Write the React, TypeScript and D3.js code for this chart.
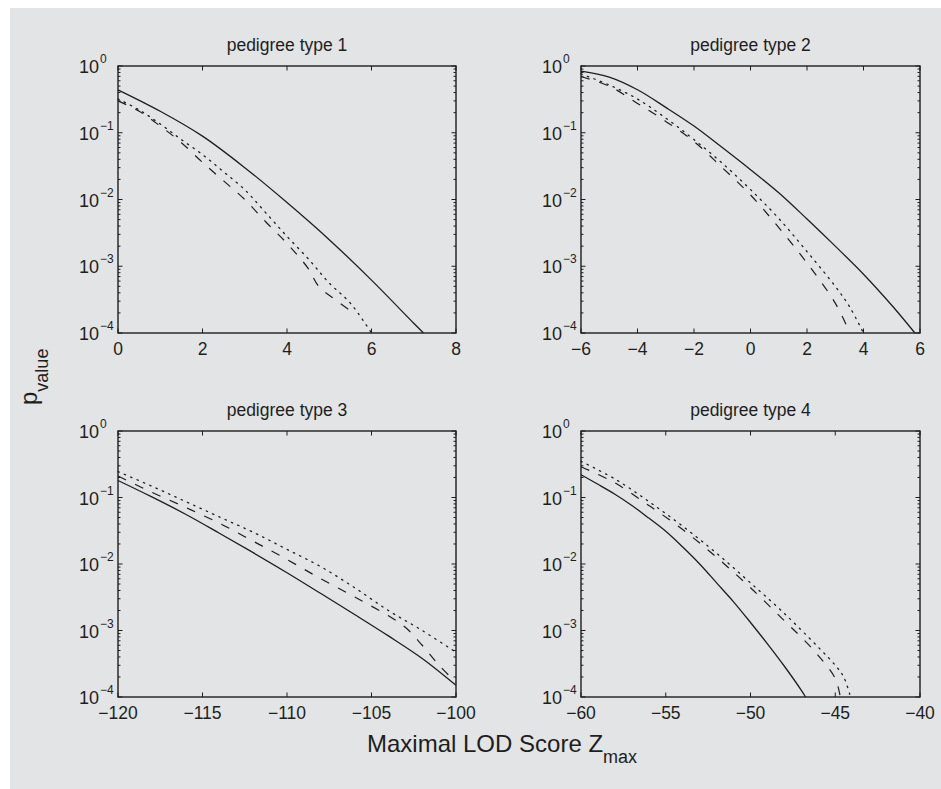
import React from "react";
import * as d3 from "d3";

// ---------- data ----------
const titles = ["pedigree type 1", "pedigree type 2", "pedigree type 3", "pedigree type 4"];
const xDomains: [number, number][] = [[0, 8], [-6, 6], [-120, -100], [-60, -40]];
const xTicks1 = [0, 2, 4, 6, 8];
const xTicks2 = [-6, -4, -2, 0, 2, 4, 6];
const xTicks3 = [-120, -115, -110, -105, -100];
const xTicks4 = [-60, -55, -50, -45, -40];
const yTickExponents = [0, -1, -2, -3, -4];

// panel 1
const p1SolidX = [0, 1, 2, 3, 4, 5, 6, 7, 7.23];
const p1SolidY = [0.44, 0.21, 0.089, 0.030, 0.0090, 0.0025, 6.2e-4, 1.4e-4, 1.0e-4];
const p1DashX = [0, 0.5, 1, 1.5, 2, 2.5, 3, 3.5, 4, 4.5, 4.75, 5.1, 5.53];
const p1DashY = [0.30, 0.21, 0.126, 0.071, 0.036, 0.019, 0.010, 0.0046, 0.0022, 9.3e-4, 5.0e-4, 3.3e-4, 2.1e-4];
const p1DotX = [0, 0.5, 1, 1.5, 2, 2.5, 3, 3.5, 4, 4.5, 5, 5.5, 6];
const p1DotY = [0.32, 0.22, 0.135, 0.079, 0.047, 0.026, 0.014, 0.0063, 0.0028, 0.0013, 5.6e-4, 2.8e-4, 1.0e-4];

// panel 2
const p2SolidX = [-6, -5, -4, -3, -2, -1, 0, 1, 2, 3, 4, 5, 5.82];
const p2SolidY = [0.84, 0.68, 0.44, 0.24, 0.126, 0.060, 0.028, 0.0126, 0.0051, 0.0020, 7.6e-4, 2.6e-4, 1.0e-4];
const p2DashX = [-6, -5, -4, -3, -2, -1, 0, 1, 2, 3, 3.52];
const p2DashY = [0.69, 0.50, 0.275, 0.148, 0.074, 0.030, 0.0117, 0.0038, 0.00112, 2.8e-4, 1.0e-4];
const p2DotX = [-6, -5, -4, -3, -2, -1, 0, 1, 2, 3, 3.5, 4];
const p2DotY = [0.76, 0.52, 0.32, 0.166, 0.079, 0.035, 0.0141, 0.0052, 0.00166, 5.0e-4, 2.5e-4, 1.0e-4];

// panel 3
const p3SolidX = [-120, -118, -116, -114, -112, -110, -108, -106, -104, -102, -100];
const p3SolidY = [0.18, 0.102, 0.056, 0.029, 0.0148, 0.0074, 0.0036, 0.00174, 8.3e-4, 3.8e-4, 1.5e-4];
const p3DashX = [-120, -118, -116, -114, -112, -110, -108, -106, -104, -103, -102, -101, -100];
const p3DashY = [0.21, 0.12, 0.071, 0.041, 0.022, 0.0117, 0.0060, 0.0032, 0.00166, 0.00112, 6.0e-4, 3.0e-4, 1.66e-4];
const p3DotX = [-120, -118, -116, -114, -112, -110, -108, -106, -104, -102, -100];
const p3DotY = [0.245, 0.148, 0.087, 0.051, 0.030, 0.0166, 0.0091, 0.0044, 0.0020, 0.0010, 4.7e-4];

// panel 4
const p4SolidX = [-60, -59, -58, -57, -56, -55, -54, -53, -52, -51, -50, -49, -48, -47, -46.75];
const p4SolidY = [0.22, 0.158, 0.112, 0.076, 0.049, 0.031, 0.018, 0.010, 0.0052, 0.0027, 0.00132, 6.3e-4, 2.9e-4, 1.26e-4, 1.0e-4];
const p4DashX = [-60, -58, -56, -54, -52, -50, -48, -47, -46, -45, -44.7];
const p4DashY = [0.29, 0.166, 0.076, 0.033, 0.0126, 0.0044, 0.0014, 7.9e-4, 4.2e-4, 1.9e-4, 1.0e-4];
const p4DotX = [-60, -58, -56, -54, -52, -50, -48, -46, -45, -44.5, -44.1];
const p4DotY = [0.35, 0.19, 0.087, 0.037, 0.0145, 0.0052, 0.0018, 5.6e-4, 3.0e-4, 2.0e-4, 1.0e-4];

const xTicksAll = [xTicks1, xTicks2, xTicks3, xTicks4];
const seriesAll = [
  [[p1SolidX, p1SolidY], [p1DashX, p1DashY], [p1DotX, p1DotY]],
  [[p2SolidX, p2SolidY], [p2DashX, p2DashY], [p2DotX, p2DotY]],
  [[p3SolidX, p3SolidY], [p3DashX, p3DashY], [p3DotX, p3DotY]],
  [[p4SolidX, p4SolidY], [p4DashX, p4DashY], [p4DotX, p4DotY]],
];

// ---------- layout ----------
const W = 941;
const H = 789;
const BG = "#e3e4e5";
const INK = "#1e1e1e";
const FONT = "'Liberation Sans', Arial, Helvetica, sans-serif";
const boxes = [
  { l: 118, t: 66, r: 456, b: 333 },
  { l: 581, t: 66, r: 920, b: 333 },
  { l: 118, t: 431, r: 456, b: 697 },
  { l: 581, t: 431, r: 920, b: 697 },
];
const lineStyles = [
  { dash: "none", w: 1.3 },
  { dash: "9,10", w: 1.2 },
  { dash: "1.4,5.5", w: 1.3 },
];

function fmt(v: number) {
  return v < 0 ? "\u2212" + Math.abs(v) : String(v);
}

function Panel({ i }: { i: number }) {
  const bx = boxes[i];
  const x = d3.scaleLinear().domain(xDomains[i]).range([bx.l, bx.r]);
  const y = d3.scaleLog().domain([1e-4, 1]).range([bx.b, bx.t]);
  const minor: number[] = [];
  for (let e = -4; e < 0; e++) for (let m = 2; m <= 9; m++) minor.push(m * Math.pow(10, e));
  const line = d3
    .line<[number, number]>()
    .x((d) => x(d[0]))
    .y((d) => y(d[1]))
    .curve(d3.curveCatmullRom.alpha(0.5));
  const cx = (bx.l + bx.r) / 2;
  return (
    <g>
      <text x={cx} y={bx.t - 15} textAnchor="middle" fontSize={17.5} fontFamily={FONT} fill={INK}>
        {titles[i]}
      </text>
      {seriesAll[i].map((s, k) => {
        const pts = (s[0] as number[]).map((xv, j) => [xv, (s[1] as number[])[j]] as [number, number]);
        return (
          <path
            key={k}
            d={line(pts) || ""}
            fill="none"
            stroke={INK}
            strokeWidth={lineStyles[k].w}
            strokeDasharray={lineStyles[k].dash}
            strokeLinecap={k === 2 ? "round" : "butt"}
          />
        );
      })}
      {minor.map((v, k) => (
        <g key={"m" + k}>
          <line x1={bx.l} x2={bx.l + 2.5} y1={y(v)} y2={y(v)} stroke={INK} strokeWidth={1} />
          <line x1={bx.r} x2={bx.r - 2.5} y1={y(v)} y2={y(v)} stroke={INK} strokeWidth={1} />
        </g>
      ))}
      {yTickExponents.map((e) => {
        const yy = y(Math.pow(10, e));
        return (
          <g key={"y" + e}>
            <line x1={bx.l} x2={bx.l + 4.5} y1={yy} y2={yy} stroke={INK} strokeWidth={1} />
            <line x1={bx.r} x2={bx.r - 4.5} y1={yy} y2={yy} stroke={INK} strokeWidth={1} />
            <text x={bx.l - 19} y={yy + 7} textAnchor="end" fontSize={18} fontFamily={FONT} fill={INK}>
              10
            </text>
            <text x={bx.l - 18} y={yy - 3} textAnchor="start" fontSize={12} fontFamily={FONT} fill={INK}>
              {e === 0 ? "0" : "\u2212" + Math.abs(e)}
            </text>
          </g>
        );
      })}
      {xTicksAll[i].map((v) => {
        const xx = x(v);
        return (
          <g key={"x" + v}>
            <line x1={xx} x2={xx} y1={bx.b} y2={bx.b - 4.5} stroke={INK} strokeWidth={1} />
            <line x1={xx} x2={xx} y1={bx.t} y2={bx.t + 4.5} stroke={INK} strokeWidth={1} />
            <text x={xx} y={bx.b + 22} textAnchor="middle" fontSize={17.5} fontFamily={FONT} fill={INK}>
              {fmt(v)}
            </text>
          </g>
        );
      })}
      <rect
        x={bx.l}
        y={bx.t}
        width={bx.r - bx.l}
        height={bx.b - bx.t}
        fill="none"
        stroke={INK}
        strokeWidth={1.4}
      />
    </g>
  );
}

export default function App() {
  return (
    <svg
      width={W}
      height={H}
      viewBox={`0 0 ${W} ${H}`}
      style={{ position: "absolute", left: 0, top: 0, display: "block" }}
    >
      <rect x={0} y={0} width={W} height={H} fill="#ffffff" />
      <rect x={10} y={8} width={W - 10} height={H - 8} fill={BG} />
      {[0, 1, 2, 3].map((i) => (
        <Panel key={i} i={i} />
      ))}
      <text x={367} y={752} fontSize={24} fontFamily={FONT} fill={INK}>
        Maximal LOD Score Z
        <tspan fontSize={18} dy={11}>
          max
        </tspan>
      </text>
      <text transform={`translate(37,405) rotate(-90)`} fontSize={24} fontFamily={FONT} fill={INK}>
        p
        <tspan fontSize={18} dy={11}>
          value
        </tspan>
      </text>
    </svg>
  );
}
